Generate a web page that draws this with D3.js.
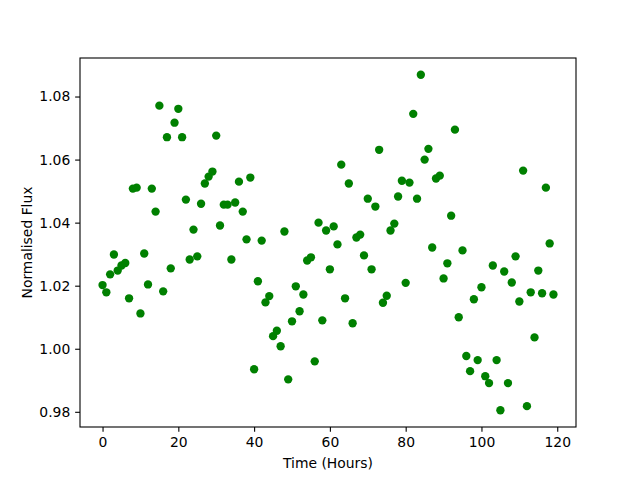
<!DOCTYPE html>
<html>
<head>
<meta charset="utf-8">
<script src="https://cdn.jsdelivr.net/npm/d3@7"></script>
<style>
  body { margin: 0; background: #fff; }
  svg { display: block; font-family: "DejaVu Sans", sans-serif; }
</style>
</head>
<body>
<div id="chart"></div>
<script>
// hourly samples, 0..119
const hours = d3.range(0, 120);
const flux = [
  1.0202, 1.0179, 1.0236, 1.0299, 1.0248, 1.0264, 1.0272, 1.0160, 1.0508, 1.0511,
  1.0112, 1.0302, 1.0204, 1.0508, 1.0435, 1.0771, 1.0182, 1.0671, 1.0255, 1.0717,
  1.0761, 1.0671, 1.0473, 1.0283, 1.0378, 1.0293, 1.0460, 1.0524, 1.0546, 1.0562,
  1.0676, 1.0391, 1.0457, 1.0457, 1.0283, 1.0464, 1.0530, 1.0435, 1.0347, 1.0543,
  0.9935, 1.0214, 1.0343, 1.0147, 1.0167, 1.0040, 1.0057, 1.0008, 1.0372, 0.9903,
  1.0087, 1.0198, 1.0119, 1.0172, 1.0280, 1.0290, 0.9960, 1.0400, 1.0090, 1.0375,
  1.0252, 1.0388, 1.0331, 1.0584, 1.0160, 1.0524, 1.0081, 1.0353, 1.0362, 1.0296,
  1.0476, 1.0252, 1.0451, 1.0631, 1.0146, 1.0168, 1.0375, 1.0397, 1.0483, 1.0533,
  1.0209, 1.0527, 1.0745, 1.0476, 1.0869, 1.0600, 1.0634, 1.0321, 1.0540, 1.0549,
  1.0223, 1.0271, 1.0422, 1.0695, 1.0100, 1.0312, 0.9977, 0.9929, 1.0157, 0.9964,
  1.0195, 0.9913, 0.9891, 1.0264, 0.9964, 0.9805, 1.0245, 0.9891, 1.0210, 1.0293,
  1.0150, 1.0565, 0.9818, 1.0179, 1.0036, 1.0248, 1.0176, 1.0511, 1.0334, 1.0172
];
const xTicks = [0, 20, 40, 60, 80, 100, 120];
const yTicks = [0.98, 1.00, 1.02, 1.04, 1.06, 1.08];

const width = 640, height = 480;
const margin = { top: 58, right: 64, bottom: 53, left: 80 };
const plotW = width - margin.left - margin.right;
const plotH = height - margin.top - margin.bottom;

// matplotlib-style 5% padding on the data extent
const pad = (ext) => {
  const m = (ext[1] - ext[0]) * 0.05;
  return [ext[0] - m, ext[1] + m];
};

const x = d3.scaleLinear().domain(pad(d3.extent(hours))).range([0, plotW]);
const y = d3.scaleLinear().domain(pad(d3.extent(flux))).range([plotH, 0]);

const svg = d3.select('#chart').append('svg')
  .attr('width', width)
  .attr('height', height);

const g = svg.append('g')
  .attr('transform', `translate(${margin.left},${margin.top})`);

const tickLen = 4.86;
const fontSize = '13.9px';

const xAxis = g.append('g')
  .attr('transform', `translate(0,${plotH})`)
  .call(d3.axisBottom(x).tickValues(xTicks).tickFormat(d3.format('d'))
    .tickSize(tickLen).tickPadding(tickLen));

const yAxis = g.append('g')
  .call(d3.axisLeft(y).tickValues(yTicks).tickFormat(d3.format('.2f'))
    .tickSize(tickLen).tickPadding(tickLen));

[xAxis, yAxis].forEach(ax => {
  ax.select('.domain').remove();
  ax.selectAll('line').attr('stroke', '#000').attr('stroke-width', 1.1);
  ax.selectAll('text')
    .attr('fill', '#000')
    .style('font-family', '"DejaVu Sans", sans-serif')
    .style('font-size', fontSize);
});

// points
g.append('g')
  .selectAll('circle')
  .data(hours)
  .join('circle')
  .attr('cx', (d) => x(d))
  .attr('cy', (d, i) => y(flux[i]))
  .attr('r', 4.17)
  .attr('fill', '#008000');

// frame
g.append('rect')
  .attr('width', plotW)
  .attr('height', plotH)
  .attr('fill', 'none')
  .attr('stroke', '#000')
  .attr('stroke-width', 1.1);

svg.append('text')
  .attr('x', margin.left + plotW / 2)
  .attr('y', 468)
  .attr('text-anchor', 'middle')
  .style('font-size', fontSize)
  .text('Time (Hours)');

svg.append('text')
  .attr('transform', `translate(32,${margin.top + plotH / 2}) rotate(-90)`)
  .attr('text-anchor', 'middle')
  .style('font-size', fontSize)
  .text('Normalised Flux');
</script>
</body>
</html>
